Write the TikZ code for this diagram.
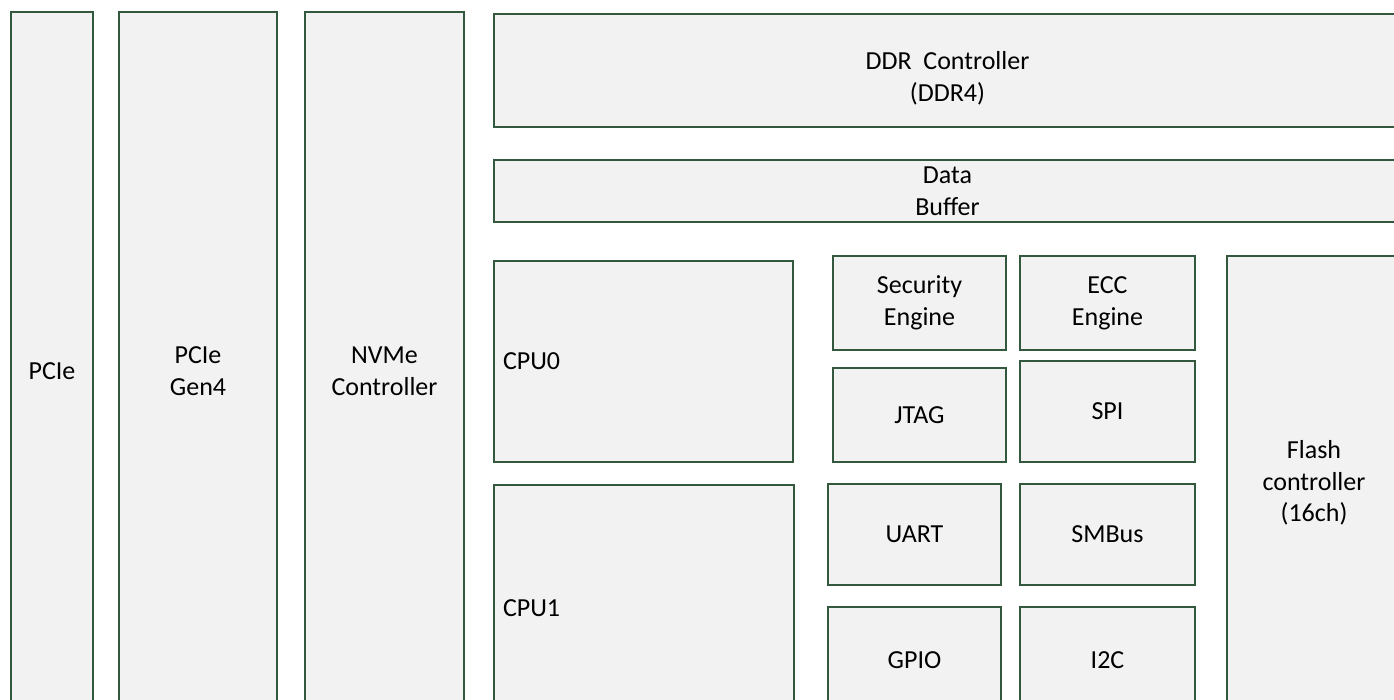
\documentclass[tikz,border=0pt]{standalone}
\usepackage{fontspec}
\setmainfont{Carlito}
\definecolor{blkline}{RGB}{52,88,62}
\definecolor{blkfill}{RGB}{242,242,242}
\tikzset{
  blk/.style={draw=blkline, fill=blkfill, line width=1.3pt, inner sep=0pt,
    align=center, text=black, font=\fontsize{26}{31.7}\selectfont},
  blkleft/.style={blk, align=left}
}
\begin{document}
\begin{tikzpicture}[x=1pt,y=-1pt]
\useasboundingbox[fill=white] (0,0) rectangle (1394,700);
\begin{scope}
\clip (0,0) rectangle (1394,700);
\node[blk, minimum width=82, minimum height=718] (pcie) at (52,371) {PCIe};
\node[blk, minimum width=158, minimum height=718] (gen4) at (198,371) {PCIe\\Gen4};
\node[blk, minimum width=159, minimum height=718] (nvme) at (384.5,371) {NVMe\\Controller};
\node[blk, minimum width=907, minimum height=113] (ddr) at (947.5,70.5) {\rule{0pt}{34pt}DDR~~Controller\\(DDR4)};
\node[blk, minimum width=907, minimum height=62] (buf) at (947.5,191) {Data\\Buffer};
\node[blkleft, minimum width=299, minimum height=201, text width=281] (cpu0) at (643.5,361.5) {CPU0};
\node[blkleft, minimum width=300, minimum height=246, text width=282] (cpu1) at (644,608) {CPU1};
\node[blk, minimum width=173, minimum height=94] (sec) at (919.5,303) {Security\\Engine};
\node[blk, minimum width=175, minimum height=94] (ecc) at (1107.5,303) {ECC\\Engine};
\node[blk, minimum width=173, minimum height=94] (jtag) at (919.5,415) {JTAG};
\node[blk, minimum width=175, minimum height=101] (spi) at (1107.5,411.5) {SPI};
\node[blk, minimum width=173, minimum height=101] (uart) at (914.5,534.5) {UART};
\node[blk, minimum width=175, minimum height=101] (smb) at (1107.5,534.5) {SMBus};
\node[blk, minimum width=173, minimum height=106] (gpio) at (914.5,660) {GPIO};
\node[blk, minimum width=175, minimum height=106] (i2c) at (1107.5,660) {I2C};
\node[blk, minimum width=174, minimum height=454] (flash) at (1314,483) {Flash\\controller\\(16ch)};
\end{scope}
\end{tikzpicture}
\end{document}
